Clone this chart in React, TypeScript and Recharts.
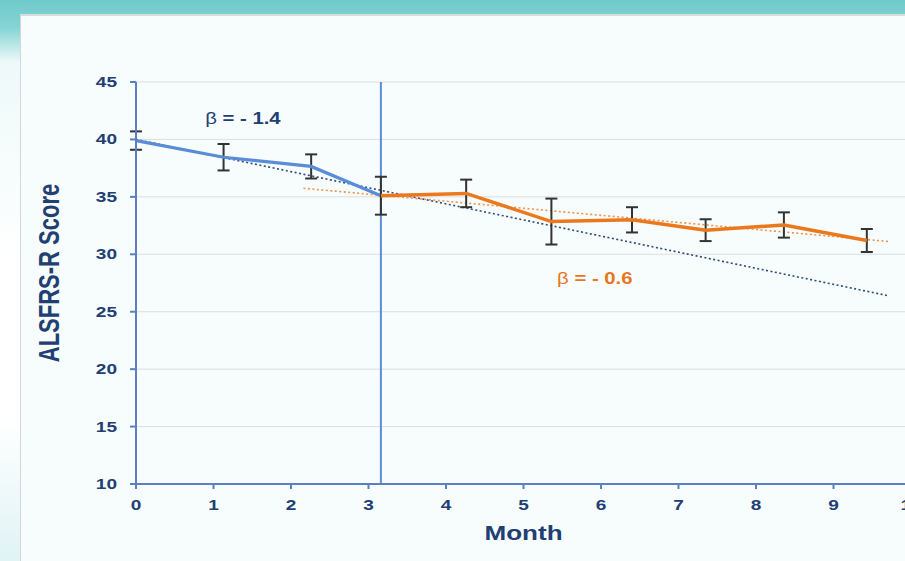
import { ComposedChart, Line, XAxis, YAxis, CartesianGrid, ErrorBar, ReferenceLine, ReferenceDot, Label } from "recharts"

// months on the x axis, ALSFRS-R score on the y axis
const xTicks = [0, 1, 2, 3, 4, 5, 6, 7, 8, 9, 10]
const yTicks = [10, 15, 20, 25, 30, 35, 40, 45]

// before the change point (blue)
const blueMonth = [0, 1.13, 2.26, 3.16]
const blueScore = [39.9, 38.45, 37.65, 35.1]
const blueErr = [0.8, 1.15, 1.05, null]

// after the change point (orange)
const orangeMonth = [3.16, 4.26, 5.36, 6.4, 7.35, 8.36, 9.43]
const orangeScore = [35.1, 35.3, 32.85, 33.0, 32.1, 32.55, 31.2]
const orangeErr = [1.65, 1.2, 2.0, 1.1, 0.95, 1.1, 1.0]

// fitted slopes (dotted)
const navyTrendMonth = [0, 9.7]
const navyTrendScore = [40.0, 26.4]
const orangeTrendMonth = [2.16, 9.73]
const orangeTrendScore = [35.75, 31.1]

const changeMonth = 3.16

const annotations = [
  { x: 1.38, y: 41.9, value: "- 1.4", color: "#213f73" },
  { x: 5.92, y: 27.95, value: "- 0.6", color: "#e8761e" },
]

const blueData = blueMonth.map((x, i) => ({ x, y: blueScore[i], err: blueErr[i] }))
const orangeData = orangeMonth.map((x, i) => ({ x, y: orangeScore[i], err: orangeErr[i] }))
const navyTrend = navyTrendMonth.map((x, i) => ({ x, y: navyTrendScore[i] }))
const orangeTrend = orangeTrendMonth.map((x, i) => ({ x, y: orangeTrendScore[i] }))

const FONT = '"Liberation Sans", Arial, sans-serif'
const NAVY = "#213f73"
const AXIS = "#5b7fc0"
const BLUE = "#5a8dd8"
const ORANGE = "#eb781d"
const STRETCH = 1.27

function YTick({ x, y, payload }: any) {
  return (
    <text transform={`translate(${x},${y}) scale(${STRETCH},1)`} textAnchor="end" dy={5}
          fill={NAVY} fontSize={15} fontWeight={700} fontFamily={FONT}>
      {payload.value}
    </text>
  )
}

function XTick({ x, y, payload }: any) {
  return (
    <text transform={`translate(${x},${y}) scale(${STRETCH},1)`} textAnchor="middle" dy={5}
          fill={NAVY} fontSize={15} fontWeight={700} fontFamily={FONT}>
      {payload.value}
    </text>
  )
}

function YLabel({ viewBox }: any) {
  const cx = viewBox.x + 48
  const cy = viewBox.y + viewBox.height / 2 - 10
  return (
    <text transform={`translate(${cx},${cy}) rotate(-90) scale(1,1.38)`} textAnchor="middle" dy={8}
          fill={NAVY} fontSize={22} fontWeight={700} fontFamily={FONT}>
      ALSFRS-R Score
    </text>
  )
}

function XLabel({ viewBox }: any) {
  const cx = viewBox.x + viewBox.width / 2
  return (
    <text transform={`translate(${cx},${viewBox.y + 56}) scale(${STRETCH},1)`} textAnchor="middle"
          fill={NAVY} fontSize={20.5} fontWeight={700} fontFamily={FONT}>
      Month
    </text>
  )
}

function betaShape(value: string, color: string) {
  return ({ cx, cy }: any) => (
    <text transform={`translate(${cx},${cy}) scale(${STRETCH},1)`} textAnchor="middle" dy={6}
          fill={color} fontSize={16} fontWeight={700} fontFamily={FONT}>
      <tspan fontWeight={400}>β</tspan> = {value}
    </text>
  )
}

export default function App() {
  return (
    <div style={{
      position: "fixed", left: 0, top: 0, width: 905, height: 561, overflow: "hidden",
      background: "linear-gradient(180deg, #6fcaca 0px, #86d4d4 28px, #eef9f9 62px, #ffffff 260px, #ffffff 420px, #e0f3f5 561px)",
    }}>
      <div style={{
        position: "absolute", left: 20, top: 14, right: 0, bottom: 0,
        background: "#f7fcfc", borderLeft: "1px solid #d6d6d6", borderTop: "2px solid #d8dcdc",
      }} />
      <div style={{ position: "absolute", left: 0, top: 0 }}>
        <ComposedChart width={931} height={561} margin={{ top: 82, right: 20, left: 0, bottom: 0 }}>
          <CartesianGrid vertical={false} stroke="#dedede" strokeWidth={1} />
          <XAxis type="number" dataKey="x" domain={[0, 10]} ticks={xTicks} interval={0}
                 axisLine={{ stroke: AXIS, strokeWidth: 2 }} tickLine={{ stroke: AXIS, strokeWidth: 2 }}
                 tickSize={5} tickMargin={16} tick={<XTick />} height={77}>
            <Label content={<XLabel />} />
          </XAxis>
          <YAxis type="number" domain={[10, 45]} ticks={yTicks} interval={0}
                 axisLine={{ stroke: AXIS, strokeWidth: 2 }} tickLine={{ stroke: AXIS, strokeWidth: 2 }}
                 tickSize={6} tickMargin={13} tick={<YTick />} width={136}>
            <Label content={<YLabel />} />
          </YAxis>
          <ReferenceLine x={changeMonth} stroke={BLUE} strokeWidth={2} />
          <Line data={navyTrend} dataKey="y" stroke="#2c4a7c" strokeWidth={1.6} strokeDasharray="2 2.5"
                dot={false} activeDot={false} isAnimationActive={false} />
          <Line data={orangeTrend} dataKey="y" stroke="#f0924a" strokeWidth={1.6} strokeDasharray="2 2.5"
                dot={false} activeDot={false} isAnimationActive={false} />
          <Line data={blueData} dataKey="y" stroke={BLUE} strokeWidth={3.2}
                dot={false} activeDot={false} isAnimationActive={false}>
            <ErrorBar dataKey="err" direction="y" width={6} stroke="#333" strokeWidth={2} />
          </Line>
          <Line data={orangeData} dataKey="y" stroke={ORANGE} strokeWidth={3.5}
                dot={false} activeDot={false} isAnimationActive={false}>
            <ErrorBar dataKey="err" direction="y" width={6} stroke="#333" strokeWidth={2} />
          </Line>
          {annotations.map((a) => (
            <ReferenceDot key={a.value} x={a.x} y={a.y} r={0} shape={betaShape(a.value, a.color)} />
          ))}
        </ComposedChart>
      </div>
    </div>
  )
}
